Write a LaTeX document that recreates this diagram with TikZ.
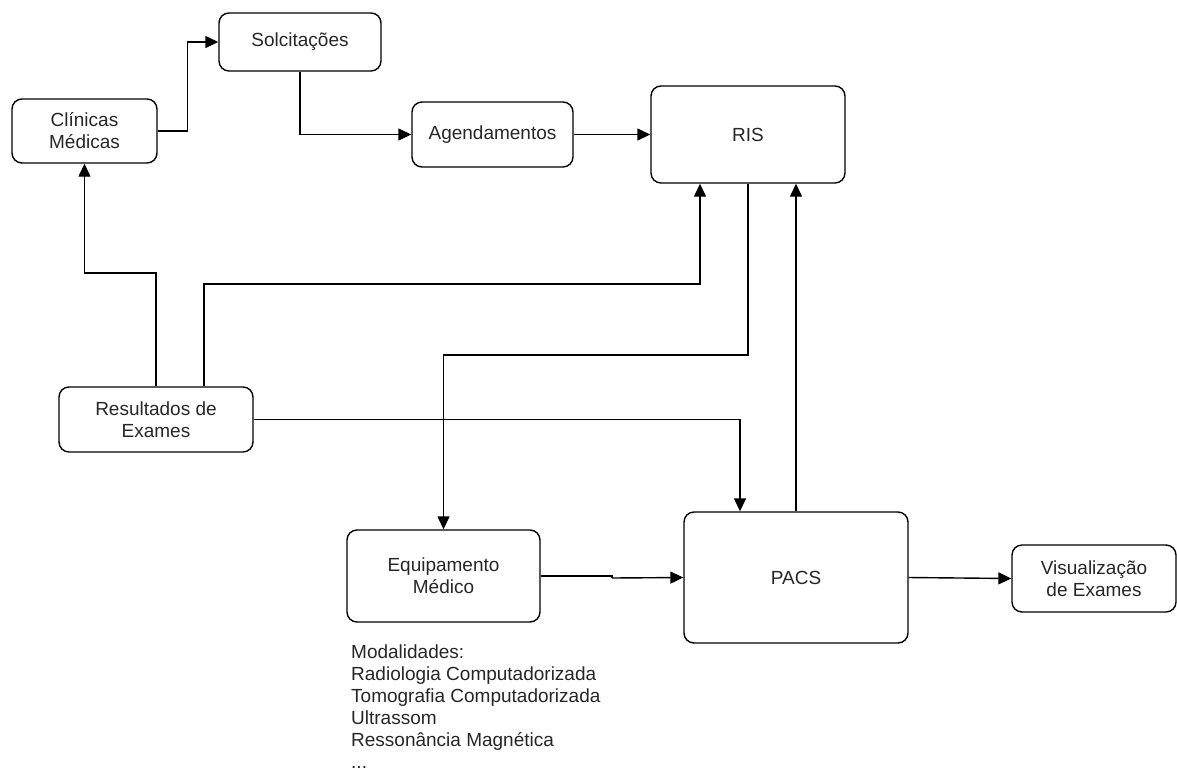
\documentclass[tikz,border=0pt]{standalone}
\usepackage{fontspec}
\setmainfont{Liberation Sans}
\usetikzlibrary{arrows.meta}
\begin{document}
\begin{tikzpicture}[x=1pt,y=-1pt,
  font=\fontsize{19}{22}\selectfont,
  box/.style={draw, line width=1.4pt, rounded corners=10pt, inner sep=0pt,
    align=center, text=black!85},
  link/.style={line width=1.4pt, -{Triangle[length=13pt,width=12pt]}},
  plain/.style={line width=1.4pt}]
\useasboundingbox (0,0) rectangle (1177,774);

% boxes
\node[box, minimum width=145pt, minimum height=64pt] (cli) at (84.5,131) {Clínicas\\Médicas};
\node[box, minimum width=162pt, minimum height=58pt] (sol) at (300,42) {Solcitações};
\node[box, minimum width=161pt, minimum height=65pt] (age) at (492.5,134.5) {Agendamentos};
\node[box, minimum width=194pt, minimum height=97pt] (ris) at (748,134.5) {RIS};
\node[box, minimum width=194pt, minimum height=65pt] (res) at (156,419.5) {Resultados de\\Exames};
\node[box, minimum width=193pt, minimum height=92pt] (equ) at (443.5,576) {Equipamento\\Médico};
\node[box, minimum width=224pt, minimum height=131pt] (pacs) at (796,577.5) {PACS};
\node[box, minimum width=164pt, minimum height=67pt] (vis) at (1094,578.5) {Visualização\\de Exames};

% list of modalities under the equipment box
\node[anchor=north west, align=left, inner sep=0pt, text=black!85,
  font=\fontsize{19}{22}\selectfont] (mod) at (351,645)
  {Modalidades:\\Radiologia Computadorizada\\Tomografia Computadorizada\\Ultrassom\\Ressonância Magnética\\...};

% connectors
\draw[link] (cli.east) -- (187.5,131) |- (sol.west);
\draw[link] (sol.south) |- (age.west);
\draw[link] (age.east) -- (ris.west);
\draw[link] (res.north -| 156,0) -- (156,273) -| (cli.south);
\draw[link] (res.north -| 204,0) -- (204,284) -| (ris.south -| 700,0);
\draw[link] (ris.south) -- (748,355) -| (equ.north);
\draw[link] (res.east) -| (pacs.north -| 740,0);
\draw[link] (pacs.north) -- (ris.south -| pacs.north);
\draw[plain] (equ.east) -- (612,576) -- (612,578);
\draw[link] (612,578) -- (pacs.west);
\draw[link] (pacs.east) -- (vis.west);
\end{tikzpicture}
\end{document}
